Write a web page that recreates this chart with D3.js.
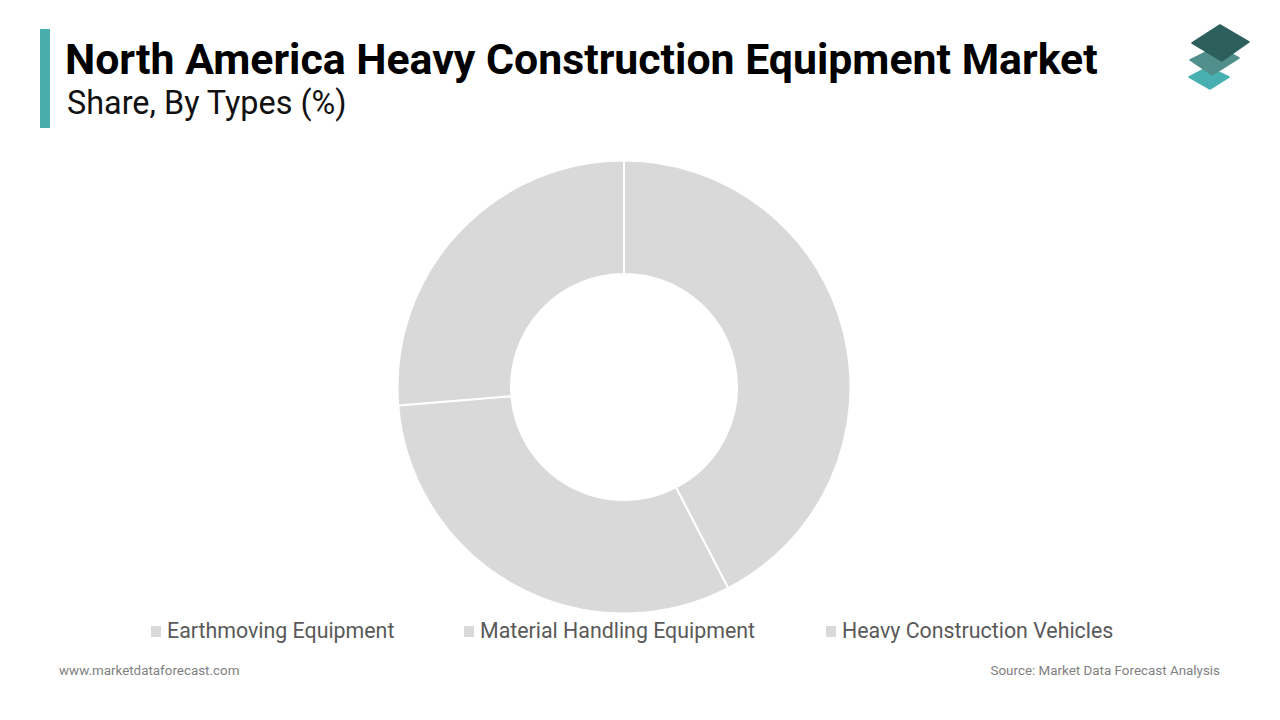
<!DOCTYPE html>
<html>
<head>
<meta charset="utf-8">
<script src="https://cdnjs.cloudflare.com/ajax/libs/d3/7.8.5/d3.min.js"></script>
<style>
html, body { margin: 0; padding: 0; background: #fff; overflow: hidden; }
text { font-family: Roboto, sans-serif; }
</style>
</head>
<body>
<div id="chart_area"></div>
<script>
var categories = ["Earthmoving Equipment", "Material Handling Equipment", "Heavy Construction Vehicles"];
var shares = [42.4, 31.3, 26.3];
var colors = ["#d9d9d9", "#d9d9d9", "#d9d9d9"];

var title = "North America Heavy Construction Equipment Market";
var subtitle = "Share, By Types (%)";
var site = "www.marketdataforecast.com";
var source = "Source: Market Data Forecast Analysis";

var frame_width = 1280;
var frame_height = 720;

var frame = d3.select("#chart_area").append("svg")
  .attr("width", frame_width)
  .attr("height", frame_height)
  .style("display", "block");

// Header
frame.append("rect")
  .attr("x", 40).attr("y", 29)
  .attr("width", 10).attr("height", 99)
  .attr("fill", "#48adad");

frame.append("text")
  .attr("x", 65).attr("y", 74)
  .attr("font-size", 42.8).attr("font-weight", 700)
  .attr("fill", "#000")
  .text(title);

frame.append("text")
  .attr("x", 67).attr("y", 114)
  .attr("font-size", 32.4)
  .attr("fill", "#111")
  .text(subtitle);

// Logo, bottom layer first
var logo = frame.append("g");
var layers = [
  { points: "1208,67 1229,77 1210,89 1189,77", fill: "#48b0b0" },
  { points: "1218,46 1239,58 1212,75 1190,60", fill: "#518f8c" },
  { points: "1220,25 1249,42 1222,61 1192,43", fill: "#2d5f5d" }
];
logo.selectAll("polygon")
  .data(layers)
  .enter().append("polygon")
  .attr("points", function(d) { return d.points; })
  .attr("fill", function(d) { return d.fill; })
  .attr("stroke", function(d) { return d.fill; })
  .attr("stroke-width", 1.5)
  .attr("stroke-linejoin", "round");

// Donut
var pie = d3.pie().sort(null);
var arc = d3.arc().innerRadius(113).outerRadius(226.5);

var donut = frame.append("g")
  .attr("transform", "translate(624,387)");

donut.selectAll("path")
  .data(pie(shares))
  .enter().append("path")
  .attr("d", arc)
  .attr("fill", function(d, i) { return colors[i]; })
  .attr("stroke", "#fff")
  .attr("stroke-width", 2);

// Legend
var legend_x = [151, 464, 826];
var legend = frame.selectAll(".legend")
  .data(categories)
  .enter().append("g")
  .attr("class", "legend")
  .attr("transform", function(d, i) { return "translate(" + legend_x[i] + ",626)"; });

legend.append("rect")
  .attr("width", 10).attr("height", 11)
  .attr("fill", function(d, i) { return colors[i]; });

legend.append("text")
  .attr("x", 16)
  .attr("y", 12)
  .attr("font-size", 21.35)
  .attr("fill", "#595959")
  .text(function(d) { return d; });

// Footer
frame.append("text")
  .attr("x", 59).attr("y", 675)
  .attr("font-size", 13.4)
  .attr("fill", "#7f7f7f")
  .text(site);

frame.append("text")
  .attr("x", 1220).attr("y", 675)
  .attr("text-anchor", "end")
  .attr("font-size", 13.4)
  .attr("fill", "#7f7f7f")
  .text(source);
</script>
</body>
</html>
